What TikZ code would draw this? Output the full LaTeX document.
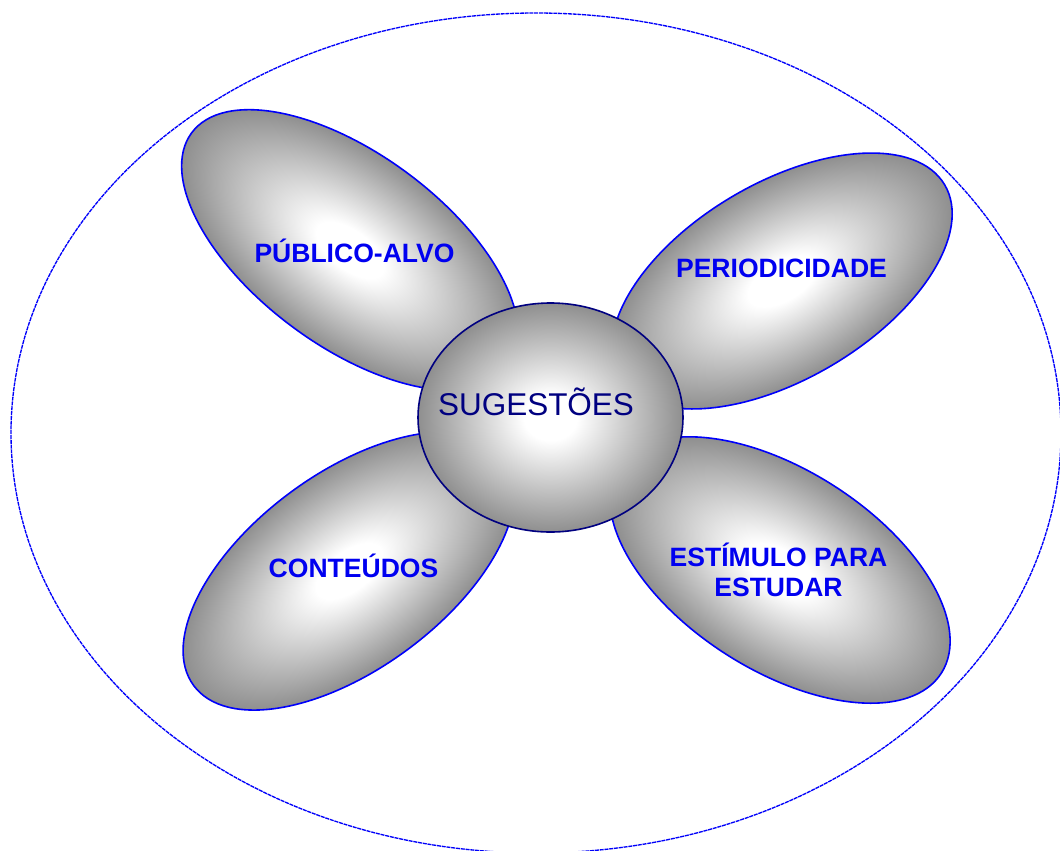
\documentclass[tikz,border=0pt]{standalone}
\usepackage{fontspec}
\setmainfont{Liberation Sans}
\usetikzlibrary{shapes.geometric}
\definecolor{petalblue}{RGB}{0,0,240}
\definecolor{edgeblue}{RGB}{0,0,250}
\definecolor{navyblue}{RGB}{0,0,128}
\definecolor{shadegray}{RGB}{126,126,126}
\pgfdeclareradialshading{petalshade}{\pgfpointorigin}{color(0bp)=(white); color(5bp)=(white); color(28bp)=(shadegray); color(50bp)=(shadegray)}

\begin{document}
\begin{tikzpicture}[x=0.75pt,y=-0.75pt,
  petal/.style={shading=petalshade,draw=edgeblue,line width=1.2pt},
  petaltext/.style={font=\bfseries\fontsize{19.9}{22.5}\selectfont,text=petalblue,align=center,inner sep=0pt}]
\useasboundingbox (0,0) rectangle (1060,850);
\draw[edgeblue,line width=1pt,dash pattern=on 3pt off 0.6pt] (536,433) ellipse [x radius=525,y radius=420];

\begin{scope}[transform canvas={shift={(350,250)},rotate=-36.5}]
\shade[petal] (0,0) ellipse [x radius=197,y radius=96];
\end{scope}
\begin{scope}[transform canvas={shift={(782,281)},rotate=30.6}]
\shade[petal] (0,0) ellipse [x radius=189,y radius=98];
\end{scope}
\begin{scope}[transform canvas={shift={(349,571)},rotate=36.4}]
\shade[petal] (0,0) ellipse [x radius=193,y radius=98];
\end{scope}
\begin{scope}[transform canvas={shift={(780,570)},rotate=-32.6}]
\shade[petal] (0,0) ellipse [x radius=191.5,y radius=100];
\end{scope}

\node[ellipse,minimum width=198.75pt,minimum height=171.75pt,inner sep=0pt,
  shading=petalshade,draw=navyblue,line width=1.2pt] (sug) at (550.5,417.5) {};
\node[anchor=base,font=\fontsize{23.6}{28}\selectfont,text=navyblue,inner sep=0pt] (sugtext) at (536,415) {SUGESTÕES};

\node[petaltext,anchor=base] (pub) at (354.5,262) {PÚBLICO-ALVO};
\node[petaltext,anchor=base] (per) at (781.5,277) {PERIODICIDADE};
\node[petaltext,anchor=base] (con) at (353.5,577) {CONTEÚDOS};
\node[petaltext] (est) at (778.5,570) {ESTÍMULO PARA\\ESTUDAR};
\end{tikzpicture}
\end{document}
